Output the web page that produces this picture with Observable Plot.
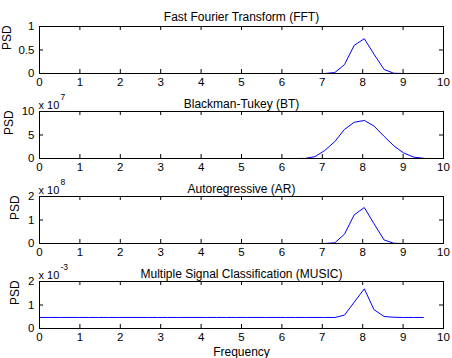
<!DOCTYPE html>
<html><head><meta charset="utf-8">
<script src="https://cdn.jsdelivr.net/npm/d3@7"></script>
<script src="https://cdn.jsdelivr.net/npm/@observablehq/plot@0.6"></script>
<style>
html,body{margin:0;padding:0;background:#fff;overflow:hidden;}
#chart{position:relative;width:452px;height:358px;}
#chart svg{position:absolute;left:0;top:0;overflow:visible;background:transparent;}
</style></head><body><div id="chart"></div>
<script>
// Frequency axis samples
const freq = [0, 0.24, 0.49, 0.73, 0.97, 1.22, 1.46, 1.71, 1.95, 2.19, 2.44, 2.68, 2.92, 3.17, 3.41, 3.65, 3.90, 4.14, 4.38, 4.63, 4.87, 5.12, 5.36, 5.60, 5.85, 6.09, 6.33, 6.58, 6.82, 7.06, 7.31, 7.55, 7.79, 8.04, 8.28, 8.53, 8.77, 9.01, 9.26, 9.50];
// PSD series (in units shown on each axis)
const psdFFT = [0,0,0,0,0,0,0,0,0,0, 0,0,0,0,0,0,0,0,0,0, 0,0,0,0,0,0,0,0,0,0, 0.02,0.19,0.60,0.74,0.41,0.085,0.005,0,0,0];
const psdBT = [0,0,0,0,0,0,0,0,0,0, 0,0,0,0,0,0,0,0,0,0, 0,0,0,0,0,0,0, 0.02,0.4,1.7,3.6,6.2,7.7,8.1,6.9,4.7,2.7,1.2,0.3,0.05];
const psdAR = [0,0,0,0,0,0,0,0,0,0, 0,0,0,0,0,0,0,0,0,0, 0,0,0,0,0,0,0,0,0,0, 0.03,0.4,1.22,1.53,0.84,0.15,0.01,0,0,0];
const psdMUSIC = [0.47,0.47,0.47,0.47,0.47,0.47,0.47,0.47,0.47,0.47, 0.47,0.47,0.47,0.47,0.47,0.47,0.47,0.47,0.47,0.47, 0.47,0.47,0.47,0.47,0.47,0.47,0.47,0.47,0.47,0.47, 0.47,0.57,1.12,1.69,0.80,0.51,0.48,0.47,0.47,0.47];

const titles = ["Fast Fourier Transform (FFT)", "Blackman-Tukey (BT)", "Autoregressive (AR)", "Multiple Signal Classification (MUSIC)"];
const exponents = [null, "7", "8", "-3"];
const xTicks = [0,1,2,3,4,5,6,7,8,9,10];
const yTicksList = [[0,0.5,1],[0,5,10],[0,1,2],[0,1,2]];
const yMaxList = [1,10,2,2];
const seriesList = [psdFFT, psdBT, psdAR, psdMUSIC];

const W = 452, axL = 39, axR = 443, axH = 47;
const tops = [26, 111, 196, 281];
const titleGap = [14, 12, 12, 12.5];
const psdX = [7, 8.5, 14.5, 14.5];
const font = "'Liberation Sans', Arial, Helvetica, sans-serif";
const chart = document.getElementById("chart");

seriesList.forEach((series, i) => {
  const top = tops[i];
  const last = i === 3;
  const mb = last ? 30 : 12;
  const data = freq.map((f, k) => ({f, v: series[k]}));
  const yTicks = yTicksList[i];
  const pw = axR - axL;
  const marks = [
    Plot.line(data, {x: "f", y: "v", stroke: "#0000ff", strokeWidth: 1}),
    Plot.frame({stroke: "black"}),
    Plot.tickX(xTicks, {x: d => d, stroke: "black", insetTop: axH - 4}),
    Plot.tickX(xTicks, {x: d => d, stroke: "black", insetBottom: axH - 4}),
    Plot.tickY(yTicks, {y: d => d, stroke: "black", insetRight: pw - 4}),
    Plot.tickY(yTicks, {y: d => d, stroke: "black", insetLeft: pw - 4}),
    Plot.axisX({ticks: xTicks, tickSize: 0, tickPadding: 4, label: null, tickFormat: d => String(d)}),
    Plot.axisY({ticks: yTicks, tickSize: 0, tickPadding: 5, label: null, tickFormat: d => String(d)}),
    Plot.text([titles[i]], {frameAnchor: "top", dy: -titleGap[i], fontSize: 12}),
    Plot.text(["PSD"], {frameAnchor: "left", dx: psdX[i] - axL, rotate: -90, fontSize: 12})
  ];
  if (exponents[i]) {
    marks.push(Plot.text(["x 10"], {frameAnchor: "top-left", dx: -1, dy: -10, textAnchor: "start", fontSize: 11}));
    marks.push(Plot.text([exponents[i]], {frameAnchor: "top-left", dx: 21, dy: -18, textAnchor: "start", fontSize: 8.5}));
  }
  if (last) {
    marks.push(Plot.text(["Frequency"], {frameAnchor: "bottom", dy: 27.5, fontSize: 12}));
  }
  const svg = Plot.plot({
    width: W,
    height: top + axH + mb,
    marginTop: top,
    marginBottom: mb,
    marginLeft: axL,
    marginRight: W - axR,
    style: {fontFamily: font, fontSize: "11.5px", background: "transparent", overflow: "visible", color: "black"},
    x: {domain: [0, 10]},
    y: {domain: [0, yMaxList[i]]},
    marks
  });
  chart.appendChild(svg);
});
</script></body></html>
